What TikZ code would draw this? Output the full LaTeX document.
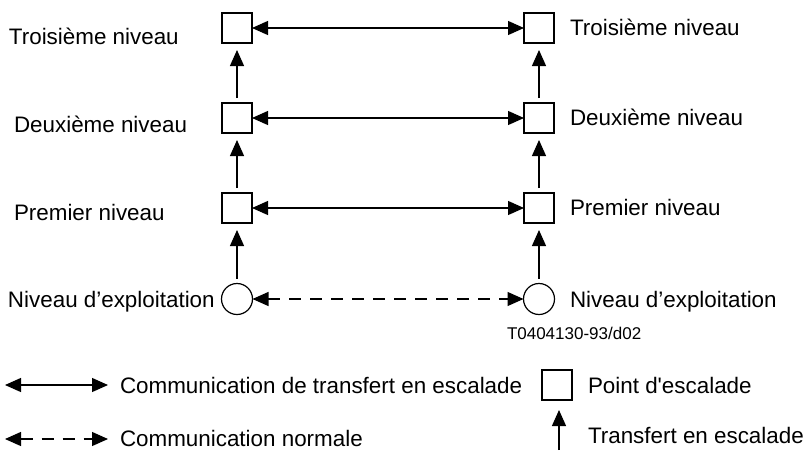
\documentclass[tikz,border=0pt]{standalone}
\usepackage{fontspec}
\setmainfont{Liberation Sans}
\usetikzlibrary{arrows.meta}
\begin{document}
\begin{tikzpicture}[x=1pt,y=-1pt,
  every node/.style={inner sep=0pt,outer sep=0pt},
  lbl/.style={font=\fontsize{22.4}{26}\selectfont},
  small/.style={font=\fontsize{17}{20}\selectfont},
  pt/.style={draw,line width=1.2pt,minimum size=30pt,inner sep=0pt},
  opn/.style={draw,circle,line width=1.2pt,minimum size=31pt,inner sep=0pt},
  conn/.style={line width=1.2pt,{Triangle[length=16pt,width=14pt]}-{Triangle[length=16pt,width=14pt]}},
  norm/.style={conn,dash pattern=on 12pt off 9pt},
  esc/.style={line width=1.2pt,-{Triangle[length=16pt,width=14pt]},shorten >=7pt,shorten <=5pt}
]
\useasboundingbox (0,0) rectangle (806,450);
% nodes
\node[pt] (L3) at (237,28) {};
\node[pt] (L2) at (237,118) {};
\node[pt] (L1) at (237,208) {};
\node[opn] (L0) at (237,299) {};
\node[pt] (R3) at (539,28) {};
\node[pt] (R2) at (539,118) {};
\node[pt] (R1) at (539,208) {};
\node[opn] (R0) at (539,299) {};
% horizontal
\draw[conn] (L3) -- (R3);
\draw[conn] (L2) -- (R2);
\draw[conn] (L1) -- (R1);
\draw[norm] (L0) -- (R0);
% vertical
\draw[esc] (L0) -- (L1);
\draw[esc] (L1) -- (L2);
\draw[esc] (L2) -- (L3);
\draw[esc] (R0) -- (R1);
\draw[esc] (R1) -- (R2);
\draw[esc] (R2) -- (R3);
% labels left
\node[lbl,anchor=base west] (tl3) at (9,44) {Troisième niveau};
\node[lbl,anchor=base west] (tl2) at (14,132) {Deuxième niveau};
\node[lbl,anchor=base west] (tl1) at (14,220) {Premier niveau};
\node[lbl,anchor=base west] (tl0) at (8,307) {Niveau d’exploitation};
% labels right
\node[lbl,anchor=base west] (tr3) at (570,35) {Troisième niveau};
\node[lbl,anchor=base west] (tr2) at (570,125) {Deuxième niveau};
\node[lbl,anchor=base west] (tr1) at (570,215) {Premier niveau};
\node[lbl,anchor=base west] (tr0) at (570,307) {Niveau d’exploitation};
\node[small,anchor=base west] (ref) at (507,339) {T0404130-93/d02};
% legend
\coordinate (a1) at (5,385);
\coordinate (a2) at (108,385);
\draw[conn] (a1) -- (a2);
\node[lbl,anchor=base west] (t1) at (120,393) {Communication de transfert en escalade};
\coordinate (b1) at (5,439);
\coordinate (b2) at (108,439);
\draw[norm] (b1) -- (b2);
\node[lbl,anchor=base west] (t2) at (120,446) {Communication normale};
\node[pt] (lp) at (557,385) {};
\node[lbl,anchor=base west] (t3) at (588,393) {Point d\textquotesingle escalade};
\coordinate (c1) at (559,450);
\coordinate (c2) at (559,410);
\draw[line width=1.2pt,-{Triangle[length=16pt,width=14pt]}] (c1) -- (c2);
\node[lbl,anchor=base west] (t4) at (588,443) {Transfert en escalade};
\end{tikzpicture}
\end{document}
